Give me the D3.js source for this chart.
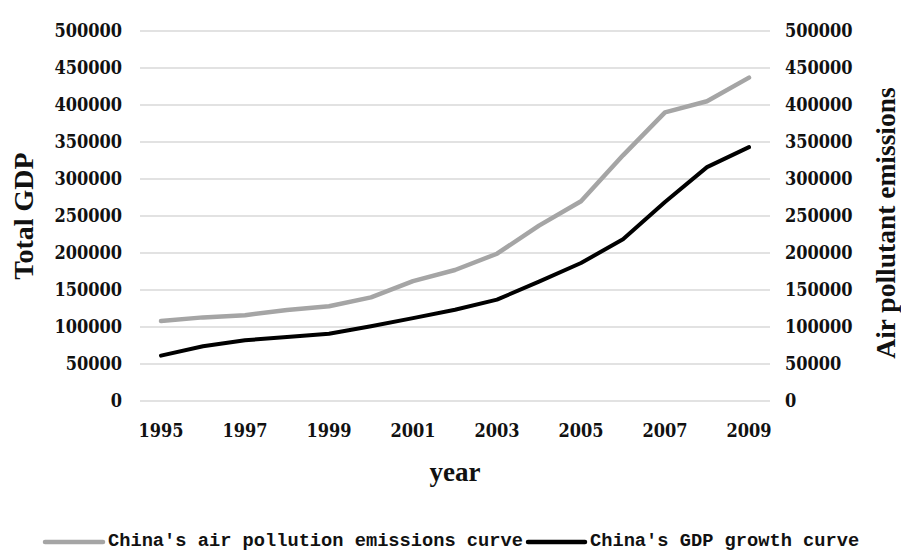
<!DOCTYPE html>
<html>
<head>
<meta charset="utf-8">
<script src="https://cdn.jsdelivr.net/npm/d3@7"></script>
<style>
  html, body { margin: 0; padding: 0; background: #fff; }
  svg { display: block; }
</style>
</head>
<body>
<svg id="chart" width="901" height="551"></svg>
<script>
// Years on the x axis (every year plotted, odd years labelled)
const years = [1995, 1996, 1997, 1998, 1999, 2000, 2001, 2002, 2003, 2004, 2005, 2006, 2007, 2008, 2009];
const yearTickLabels = ["1995", "1997", "1999", "2001", "2003", "2005", "2007", "2009"];

// Air pollutant emissions (right axis)
const emissions = [108000, 113000, 116000, 123000, 128000, 140000, 162000, 177000, 199000, 237000, 270000, 332000, 390000, 405000, 437000];
// Total GDP (left axis)
const gdp = [61300, 73900, 82000, 86500, 91000, 100900, 112000, 123400, 137000, 161300, 186500, 218500, 269000, 316000, 343000];

const valueTicks = [0, 50000, 100000, 150000, 200000, 250000, 300000, 350000, 400000, 450000, 500000];

const seriesNames = ["China's air pollution emissions curve", "China's GDP growth curve"];

const svg = d3.select("#chart");
const plotLeft = 140, plotRight = 770, plotTop = 31, plotBottom = 401;

const x = d3.scaleBand().domain(years).range([plotLeft, plotRight]);
const yL = d3.scaleLinear().domain([0, 500000]).range([plotBottom, plotTop]);
const yR = d3.scaleLinear().domain([0, 500000]).range([plotBottom, plotTop]);

const tickFont = "'DejaVu Serif Condensed', 'DejaVu Serif', serif";
const titleFont = "'Liberation Serif', 'Times New Roman', serif";

// Horizontal gridlines
svg.append("g")
  .selectAll("line")
  .data(valueTicks)
  .join("line")
  .attr("x1", plotLeft).attr("x2", plotRight)
  .attr("y1", d => yL(d)).attr("y2", d => yL(d))
  .attr("stroke", "#d9d9d9")
  .attr("stroke-width", 1.5);

function styleTicks(g) {
  g.select(".domain").remove();
  g.selectAll("text")
    .attr("font-family", tickFont)
    .attr("font-stretch", "condensed")
    .attr("font-weight", "bold")
    .attr("font-size", 18)
    .attr("fill", "#111");
}

// Left axis
svg.append("g")
  .attr("transform", `translate(${plotLeft - 18},0)`)
  .call(d3.axisLeft(yL).tickValues(valueTicks).tickSize(0).tickPadding(0).tickFormat(d3.format("d")))
  .call(styleTicks);

// Right axis
svg.append("g")
  .attr("transform", `translate(${plotRight + 15},0)`)
  .call(d3.axisRight(yR).tickValues(valueTicks).tickSize(0).tickPadding(0).tickFormat(d3.format("d")))
  .call(styleTicks);

// Bottom axis
svg.append("g")
  .attr("transform", `translate(0,${plotBottom + 23})`)
  .call(d3.axisBottom(x).tickValues(yearTickLabels.map(Number)).tickSize(0).tickPadding(0))
  .call(styleTicks);

// Axis titles
svg.append("text")
  .attr("transform", `translate(33,216) rotate(-90)`)
  .attr("text-anchor", "middle")
  .attr("font-family", titleFont).attr("font-weight", "bold").attr("font-size", 28).attr("fill", "#111")
  .text("Total GDP");

svg.append("text")
  .attr("transform", `translate(895,223) rotate(-90)`)
  .attr("text-anchor", "middle")
  .attr("font-family", titleFont).attr("font-weight", "bold").attr("font-size", 27.5).attr("fill", "#111")
  .text("Air pollutant emissions");

svg.append("text")
  .attr("x", (plotLeft + plotRight) / 2)
  .attr("y", 481)
  .attr("text-anchor", "middle")
  .attr("font-family", titleFont).attr("font-weight", "bold").attr("font-size", 27).attr("fill", "#111")
  .text("year");

// Series lines
const cx = d => x(d) + x.bandwidth() / 2;
const lineE = d3.line().x((d, i) => cx(years[i])).y(d => yR(d));
const lineG = d3.line().x((d, i) => cx(years[i])).y(d => yL(d));

svg.append("path")
  .datum(emissions)
  .attr("d", lineE)
  .attr("fill", "none")
  .attr("stroke", "#a5a5a5")
  .attr("stroke-width", 4.5)
  .attr("stroke-linejoin", "round")
  .attr("stroke-linecap", "round");

svg.append("path")
  .datum(gdp)
  .attr("d", lineG)
  .attr("fill", "none")
  .attr("stroke", "#000")
  .attr("stroke-width", 4)
  .attr("stroke-linejoin", "round")
  .attr("stroke-linecap", "round");

// Legend
const legendFont = "'Liberation Mono', monospace";
const legend = svg.append("g");
const items = [
  { name: seriesNames[0], color: "#a5a5a5", x0: 45, x1: 103, tx: 108 },
  { name: seriesNames[1], color: "#000", x0: 528, x1: 585, tx: 590 }
];
items.forEach(it => {
  legend.append("line")
    .attr("x1", it.x0).attr("x2", it.x1)
    .attr("y1", 542).attr("y2", 542)
    .attr("stroke", it.color).attr("stroke-width", 4.5)
    .attr("stroke-linecap", "round");
  legend.append("text")
    .attr("x", it.tx).attr("y", 546)
    .attr("font-family", legendFont).attr("font-weight", "bold").attr("font-size", 18.7)
    .attr("fill", "#111")
    .text(it.name);
});
</script>
</body>
</html>
